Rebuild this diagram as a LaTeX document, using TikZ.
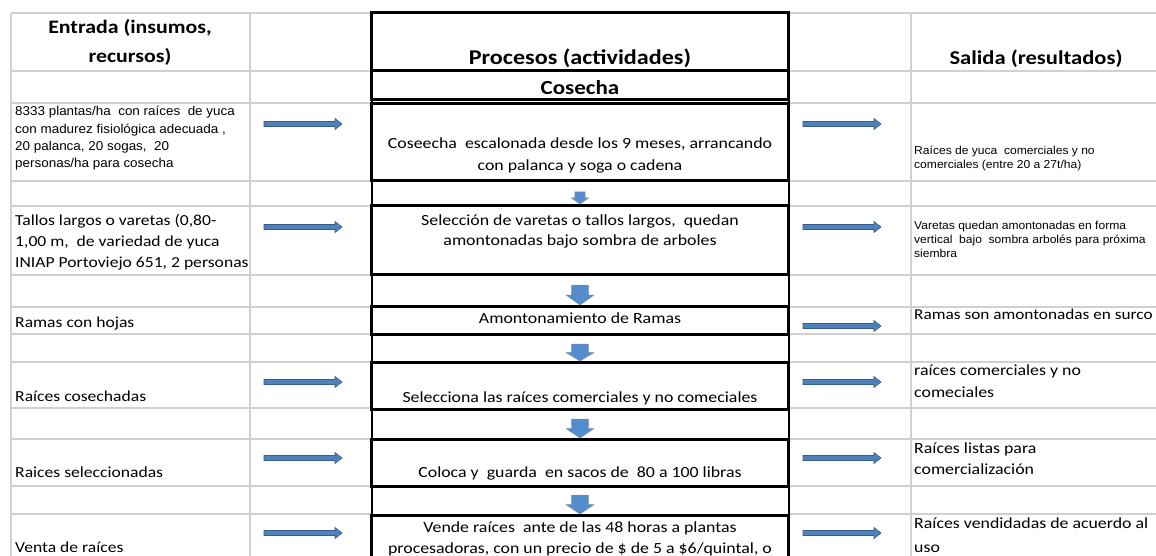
\documentclass[tikz,border=0pt]{standalone}
\usepackage{fontspec}
\setmainfont{Carlito}[FakeStretch=1.15]
\newfontfamily\arialf{Liberation Sans}[FakeStretch=1.05]
\usetikzlibrary{calc}
\definecolor{gridgray}{RGB}{208,208,208}
\definecolor{arrowfill}{RGB}{79,129,189}
\definecolor{arrowline}{RGB}{56,93,138}
\definecolor{downfill}{RGB}{84,141,205}
\tikzset{
    pics/flow right/.style={
        code={
            \filldraw[fill=arrowfill, draw=arrowline, line width=0.6pt]
                (0,-2.5) -- (71,-2.5) -- (71,-5.5) -- (78,0) -- (71,5.5) -- (71,2.5) -- (0,2.5) -- cycle;
        }},
    pics/flow down/.style args={#1x#2}{
        code={
            \filldraw[fill=downfill, draw=arrowline!70, line width=0.5pt]
                (-0.3*#1,0) -- (0.3*#1,0) -- (0.3*#1,0.5*#2) -- (0.5*#1,0.5*#2) -- (0,#2)
                -- (-0.5*#1,0.5*#2) -- (-0.3*#1,0.5*#2) -- cycle;
        }},
    gridline/.style={draw=gridgray, line width=2pt},
    pbox/.style={draw=black, line width=3pt},
    head/.style={font=\bfseries\fontsize{19}{29}\selectfont, align=center, inner sep=0pt, anchor=base},
    cell/.style={font=\fontsize{15.3}{21}\selectfont, align=left, inner sep=0pt, anchor=base west},
    proc/.style={font=\fontsize{15.5}{21}\selectfont, align=center, inner sep=0pt, anchor=base},
    note/.style={font=\arialf\fontsize{11.5}{14.5}\selectfont, align=left, inner sep=0pt, anchor=base west},
}

\begin{document}
\begin{tikzpicture}[x=1pt, y=-1pt]

    \useasboundingbox (0,0) rectangle (1156,556);
    \fill[white] (0,0) rectangle (1156,556);
    \clip (0,0) rectangle (1156,556);

    % sheet grid
    \foreach \y in {13,71,103,181,206,275,307,334,362,408,439,486,514}{
        \draw[gridline] (11,\y) -- (371,\y);
        \draw[gridline] (788,\y) -- (1156,\y);
    }
    \foreach \x in {11,250,911}
        \draw[gridline] (\x,13) -- (\x,556);

    % process column
    \draw[line width=2pt] (371.5,13) -- (371.5,556);
    \draw[line width=2pt] (788.5,13) -- (788.5,556);
    \foreach \a/\b in {13/71, 71/100, 104/181, 206/274, 306/334, 362/409, 439/486, 515/580}
        \draw[pbox] (371.5,\a) rectangle (788.5,\b);

    % headers (multi-line nodes sit on their last line)
    \node[head] (hIn) at (130,63) {Entrada (insumos,\\recursos)};
    \node[head, font=\bfseries\fontsize{21}{25}\selectfont] (hPr) at (580,65) {Procesos (actividades)};
    \node[head, font=\bfseries\fontsize{19.6}{25}\selectfont] (hOut) at (1036,65) {Salida (resultados)};
    \node[head, font=\bfseries\fontsize{20}{25}\selectfont] (cos) at (580,95) {Cosecha};

    % inputs
    \node[cell, font=\arialf\fontsize{12.8}{17.5}\selectfont] (in1) at (15,168)
        {8333 plantas/ha\ \ con raíces\ \ de yuca\\con madurez fisiológica adecuada ,\\20 palanca, 20 sogas,\ \ 20\\personas/ha para cosecha};
    \node[cell] (in2) at (15,267) {Tallos largos o varetas (0,80-\\1,00 m,\ \ de variedad de yuca\\INIAP Portoviejo 651, 2 personas};
    \node[cell] (in3) at (15,327) {Ramas con hojas};
    \node[cell] (in4) at (15,401) {Raíces cosechadas};
    \node[cell] (in5) at (15,477) {Raices seleccionadas};
    \node[cell] (in6) at (15,552) {Venta de raíces};

    % processes
    \node[proc, font=\fontsize{15.5}{22.4}\selectfont] (pr1) at (580,171) {Coseecha\ \ escalonada desde los 9 meses, arrancando\\con palanca y soga o cadena};
    \node[proc, font=\fontsize{15.5}{20}\selectfont] (pr2) at (580,245) {Selección de varetas o tallos largos,\ \ quedan\\amontonadas bajo sombra de arboles};
    \node[proc] (pr3) at (580,323) {Amontonamiento de Ramas};
    \node[proc] (pr4) at (580,402) {Selecciona las raíces comerciales y no comeciales};
    \node[proc] (pr5) at (580,477) {Coloca y\ \ guarda\ \ en sacos de\ \ 80 a 100 libras};
    \node[proc] (pr6) at (580,553) {Vende raíces\ \ ante de las 48 horas a plantas\\procesadoras, con un precio de \$ de 5 a \$6/quintal, o};

    % outputs
    \node[note] (out1) at (914,169) {Raíces de yuca\ \ comerciales y no\\comerciales (entre 20 a 27t/ha)};
    \node[note, font=\arialf\fontsize{11.5}{14}\selectfont] (out2) at (914,257) {Varetas quedan amontonadas en forma\\vertical\ \ bajo\ \ sombra arbolés para próxima\\siembra};
    \node[cell, font=\fontsize{15}{21}\selectfont] (out3) at (914,319) {Ramas son amontonadas en surco};
    \node[cell, font=\fontsize{15.5}{22}\selectfont] (out4) at (914,397) {raíces comerciales y no\\comeciales};
    \node[cell, font=\fontsize{15.5}{21}\selectfont] (out5) at (914,474) {Raíces listas para\\comercialización};
    \node[cell, font=\fontsize{15.5}{24}\selectfont] (out6) at (914,552) {Raíces vendidadas de acuerdo al\\uso};

    % arrows
    \foreach \y in {124,227,382,458,533}
        \pic at (264,\y) {flow right};
    \foreach \y in {124,227,326,382,458,533}
        \pic at (803,\y) {flow right};
    \foreach \t/\w/\h in {192/17/12, 285/28/20, 344/28/17, 419/28/19, 495/28/19}
        \pic at (580,\t) {flow down=\w x\h};

\end{tikzpicture}
\end{document}
